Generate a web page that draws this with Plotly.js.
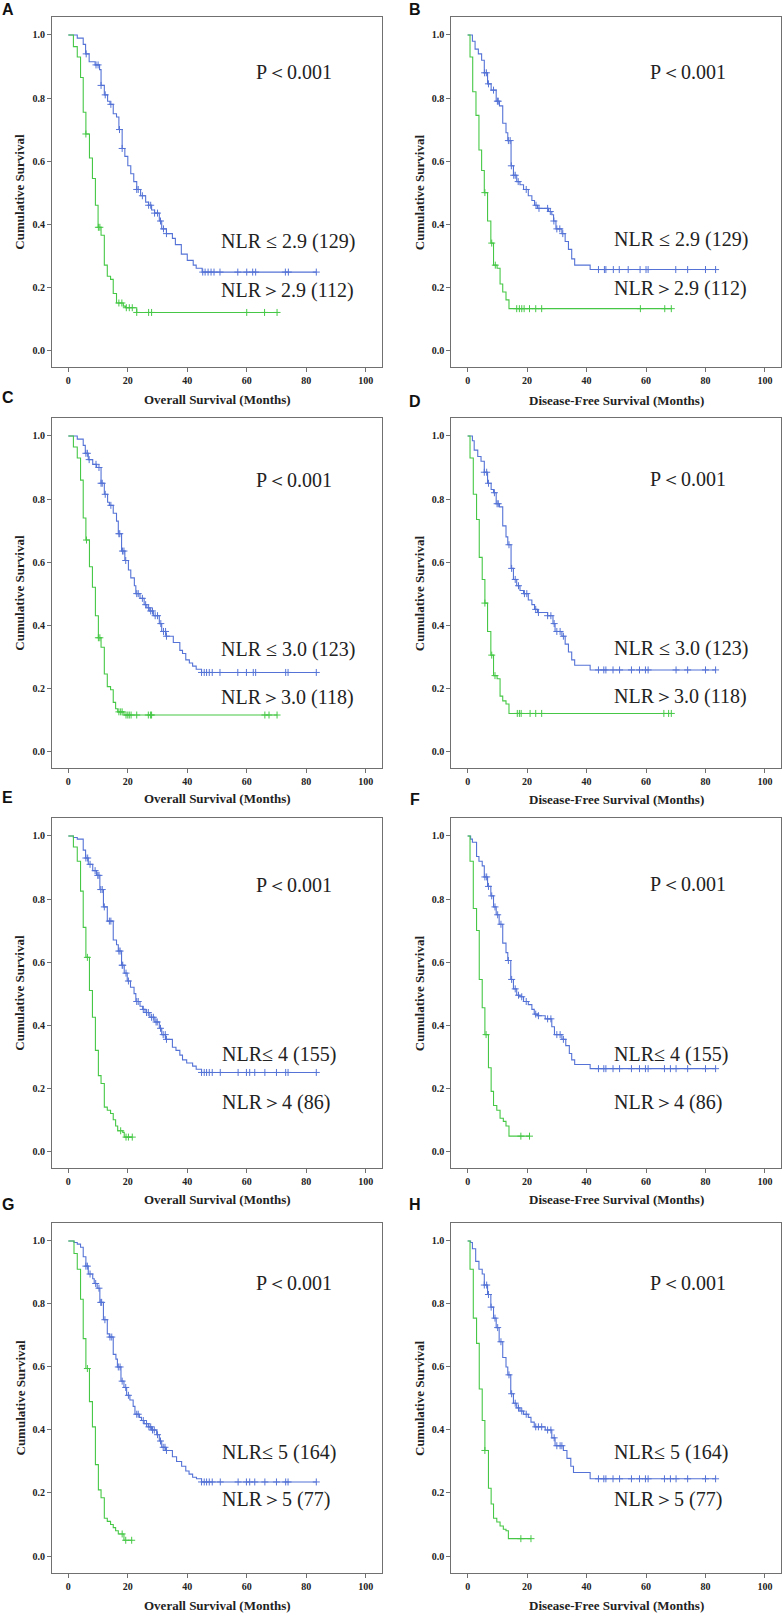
<!DOCTYPE html>
<html>
<head>
<meta charset="utf-8">
<script src="https://cdn.plot.ly/plotly-3.0.1.min.js"></script>
<style>html,body{margin:0;padding:0;background:#fff;}#chart{width:784px;height:1613px;}</style>
</head>
<body>
<div id="chart"></div>
<script>
// ---------------- DATA ----------------
// Each curve: step times (months), survival after step, censor times
// Panel A – Overall survival, NLR cut-off 2.9
const A_blue_t = [0,3,5,5.8,7,9,10.5,11,12.1,13.2,14,15.1,16.2,17,18.1,19,20,21,22,23,24.3,26,27,28,29,30.6,31.4,33,35,36,38,40,42,43,45,83.4];
const A_blue_s = [1,0.99,0.97,0.94,0.915,0.905,0.89,0.84,0.81,0.79,0.78,0.75,0.74,0.70,0.64,0.615,0.585,0.56,0.535,0.51,0.49,0.47,0.46,0.445,0.435,0.41,0.385,0.37,0.355,0.335,0.305,0.285,0.27,0.26,0.248,0.248];
const A_blue_c = [6,9.3,10,11,12.4,14.3,17.2,18.1,23,23.5,24.9,27,27.7,29,30,31,32,33,45.2,46,47,48,49,51,57,60,62,63,73,74,83.4];
const A_green_t = [0,1.7,3,4.1,5,5.9,7.1,8.1,9.1,10,11,12.1,13.1,14.2,15.1,16.2,18.5,19.2,23,70.2];
const A_green_s = [1,0.963,0.93,0.865,0.755,0.686,0.61,0.545,0.46,0.39,0.365,0.27,0.235,0.225,0.18,0.15,0.14,0.135,0.12,0.12];
const A_green_c = [5.9,10.1,10.6,17,18,19.5,20.5,21.5,23,27,28,60,66,70.2];

// Panel B – Disease-free survival, NLR cut-off 2.9
const B_blue_t = [0,1.6,2.5,3.6,4.7,5.6,6.7,7.9,9.6,10.7,11.8,12.9,13.5,14.6,15.4,16.5,17.6,18.8,20.4,21.6,22.5,23.5,27.2,28.3,28.9,29.7,31.7,32.8,33.9,35,36,41.2,83.4];
const B_blue_s = [1,0.98,0.955,0.94,0.92,0.88,0.845,0.825,0.79,0.775,0.72,0.69,0.665,0.585,0.555,0.535,0.525,0.51,0.49,0.475,0.46,0.45,0.44,0.43,0.41,0.385,0.37,0.345,0.32,0.29,0.27,0.256,0.256];
const B_blue_c = [5.7,6.3,7,8.7,10,10.3,13.7,14.3,14.7,15.5,16,17,19.7,23,24,26.9,27.8,29,30,31,32,44,46,46.5,49,51,54,58,60,60.7,70,74,80,83.4];
const B_green_t = [0,0.8,1.7,2.8,3.8,4.7,5.6,6.7,7.8,8.7,9.9,10.9,11.8,12.9,13.9,68.5];
const B_green_s = [1,0.93,0.82,0.745,0.635,0.57,0.50,0.41,0.34,0.27,0.26,0.21,0.185,0.16,0.132,0.132];
const B_green_c = [5.8,8.1,9.3,16.5,17.4,18.2,19,20.8,22.9,24.9,58.1,66.3,68.5];

// Panel C – Overall survival, NLR cut-off 3.0
const C_blue_t = [0,3,5,5.7,6.7,8.2,9.5,11,12.1,13.2,13.8,15.1,16.2,16.8,17.9,19,20.2,21,22.2,22.7,24.1,25.5,26.4,27.4,28.6,30.6,31.4,32.8,35.3,37.5,38.4,39.5,40.7,41.8,43,44.8,83.4];
const C_blue_s = [1,0.99,0.97,0.945,0.925,0.91,0.90,0.85,0.815,0.79,0.78,0.755,0.73,0.69,0.635,0.605,0.575,0.55,0.525,0.50,0.485,0.465,0.455,0.445,0.43,0.405,0.38,0.365,0.345,0.32,0.31,0.29,0.28,0.27,0.26,0.25,0.25];
const C_blue_c = [5.9,6.4,7,9.3,10.3,11,11.4,12.4,14.3,17,17.3,18.2,18.7,19.3,23,23.5,24.9,26,27,27.7,28.3,29.2,30,31.1,32,32.7,33,44.8,45.7,46.5,47.4,48.4,51,57,59.9,62.2,63,73.1,73.9,83.4];
const C_green_t = [0,1.7,3,4.1,5,5.9,7.1,8.1,9.1,10.1,11,12.1,13.1,14.2,15.1,15.9,16.6,18.7,70.2];
const C_green_s = [1,0.965,0.93,0.86,0.74,0.67,0.585,0.52,0.43,0.36,0.33,0.245,0.205,0.195,0.155,0.135,0.125,0.115,0.115];
const C_green_c = [6.1,10.1,10.6,17,17.6,18.1,19.4,20,20.5,21.1,23,26.9,27.6,28,66.1,67.5,70.2];

// Panel D – Disease-free survival, NLR cut-off 3.0
const D_blue_t = [0,1.6,2.2,3.4,4.5,5.6,6.7,7.9,8.7,9.6,10.7,11.8,12.9,13.5,14.6,15.4,16.5,17.6,18.8,20.4,21.6,22.5,23.5,26.9,28.7,29.4,31.7,32.8,33.9,35,36,41.2,83.4];
const D_blue_s = [1,0.985,0.955,0.935,0.92,0.885,0.85,0.83,0.82,0.785,0.775,0.715,0.68,0.655,0.58,0.545,0.525,0.51,0.50,0.48,0.465,0.45,0.44,0.43,0.405,0.38,0.365,0.34,0.315,0.29,0.273,0.258,0.258];
const D_blue_c = [5.6,6.4,7,9,9.9,10.3,13.9,14.8,16,17.1,19.1,19.9,22.9,23.8,26.9,28,29.1,30,31.1,32.2,44,45.8,46.5,48.9,51.1,55.1,57.8,59.8,60.7,70.1,74,80,83.4];
const D_green_t = [0,0.8,1.9,3,3.9,4.9,5.8,6.7,7.8,8.7,9.9,10.9,11.8,12.9,13.9,68.5];
const D_green_s = [1,0.93,0.815,0.735,0.615,0.545,0.47,0.38,0.305,0.24,0.23,0.175,0.16,0.15,0.12,0.12];
const D_green_c = [5.8,8.1,9.2,16.7,17.4,18,21,22.9,24.9,66,67.6,68.5];

// Panel E – Overall survival, NLR cut-off 4
const E_blue_t = [0,1.7,3,5,5.8,6.7,8.2,9.5,10.6,11.8,13.1,15.1,16.2,16.8,17.9,18.8,19.8,20.9,22.1,22.7,24.1,25,25.8,27.4,29.1,30.6,31.4,32.7,35,36.2,37.5,38.4,39.8,41.8,43,44.8,83.4];
const E_blue_s = [1,0.995,0.99,0.955,0.93,0.91,0.89,0.875,0.83,0.775,0.73,0.67,0.655,0.635,0.59,0.565,0.54,0.52,0.50,0.475,0.46,0.45,0.44,0.425,0.41,0.39,0.37,0.355,0.33,0.32,0.305,0.29,0.28,0.27,0.26,0.25,0.25];
const E_blue_c = [5.9,6.5,7.3,9,9.9,10.3,10.9,11.4,12.1,13.8,14.3,17,17.4,18.1,18.3,19.4,20.2,23,23.5,25.2,26.3,26.9,28,28.6,29.5,29.9,31,31.9,32.6,33,44.8,45.7,46.5,47.4,48.4,51.1,57.1,59.9,61,62.7,66.1,70,73.1,73.9,83.4];
const E_green_t = [0,1.7,3,4.1,5,5.9,7.1,8.1,9.1,10.1,11,12.1,13.1,14.2,15.1,15.9,16.6,18.3,18.8,21.5];
const E_green_s = [1,0.965,0.92,0.825,0.71,0.615,0.51,0.425,0.32,0.24,0.215,0.14,0.13,0.12,0.10,0.08,0.065,0.06,0.045,0.045];
const E_green_c = [6.4,17.6,19.4,20.2,21.5];

// Panel F – Disease-free survival, NLR cut-off 4
const F_blue_t = [0,1,1.6,3,3.8,4.9,5.6,6.7,7.8,8.7,9.6,10.6,11.8,12.9,13.5,14.5,15.4,16.5,17.6,18.8,20.4,21.6,22.4,23.5,26.1,28.3,29.2,31.7,33,34.2,35,36,41.2,83.4];
const F_blue_s = [1,0.99,0.98,0.935,0.92,0.905,0.87,0.84,0.81,0.775,0.75,0.72,0.66,0.63,0.605,0.545,0.515,0.495,0.49,0.475,0.465,0.45,0.435,0.43,0.42,0.395,0.37,0.355,0.335,0.31,0.29,0.275,0.262,0.262];
const F_blue_c = [5.8,6.4,7,8.1,9.2,10.1,11.2,13.7,14.8,16,17.1,18.2,19.7,22.9,23.8,26.9,28,30,31.1,32.2,44,45.8,46.5,48.9,51.1,55.1,57.8,59.8,60.7,66.2,68.2,70.1,74,80,83.4];
const F_green_t = [0,0.8,1.9,3,3.9,4.9,5.8,7,7.9,8.7,9.8,10.9,12,12.9,13.9,20.8];
const F_green_s = [1,0.92,0.77,0.70,0.545,0.455,0.37,0.265,0.19,0.145,0.13,0.105,0.095,0.08,0.048,0.048];
const F_green_c = [6.2,17.9,20.8];

// Panel G – Overall survival, NLR cut-off 5
const G_blue_t = [0,1.9,3,4.1,5,5.9,6.7,8.2,8.7,9.7,10.6,11.8,13.1,13.8,15.1,16,16.5,17.7,18.7,19.6,20.7,21.8,22.4,23.9,24.6,25.5,26.9,28,29.7,30.6,31.4,32.7,35,36.4,38.1,39.5,40.6,41.8,43.1,44.8,83.4];
const G_blue_s = [1,0.995,0.99,0.98,0.95,0.92,0.895,0.88,0.865,0.85,0.805,0.75,0.705,0.695,0.64,0.625,0.60,0.555,0.535,0.51,0.495,0.475,0.45,0.44,0.43,0.42,0.41,0.40,0.385,0.365,0.345,0.335,0.315,0.30,0.285,0.27,0.26,0.25,0.245,0.235,0.235];
const G_blue_c = [5.9,6.4,7.3,9.2,10.3,10.9,11.2,12.3,14,14.6,16.8,17.4,18.1,19.3,20.2,23,23.5,25.2,26.3,27.1,27.7,28.3,28.9,30,31,31.9,32.5,33,44.8,45.7,46.5,47.4,48.4,51.1,57.1,59.9,61,62.7,66.1,70,73.1,73.9,83.4];
const G_green_t = [0,1.9,3,4.1,5,5.9,7.1,8.1,9.1,10.1,11,12.1,13.1,14.2,15.1,15.9,16.8,18.7,21.5];
const G_green_s = [1,0.96,0.91,0.815,0.69,0.595,0.49,0.41,0.29,0.21,0.185,0.12,0.11,0.10,0.09,0.08,0.07,0.05,0.05];
const G_green_c = [6.4,18.1,19.3,21.3];

// Panel H – Disease-free survival, NLR cut-off 5
const H_blue_t = [0,1,1.6,2.7,3.8,4.9,5.6,6.7,7.8,8.7,9.6,10.6,11.8,12.9,13.5,14.5,15.4,16.5,17.6,18.8,20.4,21.3,22.4,26.1,28.3,29.4,32.2,33.4,34.7,35.6,41.2,83.4];
const H_blue_s = [1,0.995,0.975,0.935,0.91,0.895,0.86,0.83,0.79,0.755,0.725,0.68,0.63,0.60,0.575,0.515,0.485,0.47,0.46,0.45,0.44,0.425,0.41,0.40,0.375,0.35,0.335,0.31,0.285,0.265,0.245,0.245];
const H_blue_c = [5.6,6.4,7,7.9,9.2,10.1,11.2,13.9,14.8,16,17.1,18.2,19.7,22.9,23.8,24.9,26.9,28,29.1,30,31.1,31.7,44,45.8,46.5,48.9,51.1,55.1,57.8,59.8,60.7,66.2,68.2,70.1,74,80,83.4];
const H_green_t = [0,0.8,1.9,3,3.9,4.9,5.8,7,7.9,8.7,9.8,10.9,12,12.9,13.7,21.3];
const H_green_s = [1,0.91,0.755,0.675,0.53,0.43,0.335,0.215,0.165,0.12,0.108,0.095,0.085,0.08,0.055,0.055];
const H_green_c = [5.8,17.9,21.3];

// Text
const panelLetters = ['A','B','C','D','E','F','G','H'];
const xTitles = ['Overall Survival (Months)','Disease-Free Survival (Months)'];
const yTitle = 'Cumulative Survival';
const pText = 'P＜0.001';
const lowLabels  = ['NLR ≤ 2.9 (129)','NLR ≤ 2.9 (129)','NLR ≤ 3.0 (123)','NLR ≤ 3.0 (123)','NLR≤ 4 (155)','NLR≤ 4 (155)','NLR≤ 5 (164)','NLR≤ 5 (164)'];
const highLabels = ['NLR＞2.9 (112)','NLR＞2.9 (112)','NLR＞3.0 (118)','NLR＞3.0 (118)','NLR＞4 (86)','NLR＞4 (86)','NLR＞5 (77)','NLR＞5 (77)'];
const xTicks = [0,20,40,60,80,100];
const yTicks = [0,0.2,0.4,0.6,0.8,1.0];

// ---------------- BUILD ----------------
const curves = {
  A:[[A_blue_t,A_blue_s,A_blue_c],[A_green_t,A_green_s,A_green_c]],
  B:[[B_blue_t,B_blue_s,B_blue_c],[B_green_t,B_green_s,B_green_c]],
  C:[[C_blue_t,C_blue_s,C_blue_c],[C_green_t,C_green_s,C_green_c]],
  D:[[D_blue_t,D_blue_s,D_blue_c],[D_green_t,D_green_s,D_green_c]],
  E:[[E_blue_t,E_blue_s,E_blue_c],[E_green_t,E_green_s,E_green_c]],
  F:[[F_blue_t,F_blue_s,F_blue_c],[F_green_t,F_green_s,F_green_c]],
  G:[[G_blue_t,G_blue_s,G_blue_c],[G_green_t,G_green_s,G_green_c]],
  H:[[H_blue_t,H_blue_s,H_blue_c],[H_green_t,H_green_s,H_green_c]]
};
const colors = ['#5573d6','#46c846'];

const W = 784, Hh = 1613;
const colX = [[52,382],[451.3,781.3]];
const rowY = [[17.3,367],[418.3,768],[818.3,1168],[1223.3,1572.7]];
// annotation placements (data coords)
const pPos = [[76,0.883],[74,0.884],[76,0.859],[74,0.862],[76,0.843],[74,0.849],[76,0.865],[74,0.865]];
const lowPos = [[50.6,0.344],[48.5,0.35],[50.6,0.324],[48.5,0.325],[51,0.307],[48.5,0.307],[51,0.328],[48.5,0.328]];
const highPos = [[50.6,0.19],[48.5,0.197],[50.6,0.172],[48.5,0.174],[51,0.156],[48.5,0.156],[51,0.178],[48.5,0.178]];
const letterPos = [[7.5,10],[414.5,10],[7.5,398],[414.5,402],[7.5,797],[414.5,799],[7.5,1204],[414.5,1204]];
const xTitleY = [400,401,798,799,1199,1199,1605,1605];

function stepAt(t, s, c){ let v = s[0]; for(let i=0;i<t.length;i++){ if(t[i] <= c + 1e-9) v = s[i]; } return v; }

const traces = [];
const layout = {
  width: W, height: Hh, autosize:false,
  margin:{l:0,r:0,t:0,b:0},
  paper_bgcolor:'#ffffff', plot_bgcolor:'#ffffff',
  showlegend:false,
  annotations:[]
};
const serif = 'Liberation Serif, Times New Roman, serif';
const tickFont = {family:serif, size:10, color:'#222', weight:'bold'};

panelLetters.forEach((L, i) => {
  const n = i+1;
  const col = i % 2, row = Math.floor(i/2);
  const xa = n===1 ? 'x' : 'x'+n, ya = n===1 ? 'y' : 'y'+n;
  const xk = n===1 ? 'xaxis' : 'xaxis'+n, yk = n===1 ? 'yaxis' : 'yaxis'+n;
  layout[xk] = {
    domain:[colX[col][0]/W, colX[col][1]/W], anchor: ya,
    range:[-5.5,105.5], tickvals:xTicks, ticktext:xTicks.map(String),
    showline:true, mirror:true, linecolor:'#707070', linewidth:1,
    ticks:'outside', ticklen:4, tickcolor:'#707070', tickwidth:1,
    showgrid:false, zeroline:false, tickfont:tickFont, fixedrange:true
  };
  layout[yk] = {
    domain:[1-rowY[row][1]/Hh, 1-rowY[row][0]/Hh], anchor: xa,
    range:[-0.053,1.056], tickvals:yTicks, ticktext:yTicks.map(v=>v.toFixed(1)),
    showline:true, mirror:true, linecolor:'#707070', linewidth:1,
    ticks:'outside', ticklen:4, tickcolor:'#707070', tickwidth:1,
    showgrid:false, zeroline:false, tickfont:tickFont, fixedrange:true
  };
  curves[L].forEach((cv, k) => {
    const [t, s, c] = cv;
    traces.push({x:t, y:s, xaxis:xa, yaxis:ya, type:'scatter', mode:'lines',
      line:{color:colors[k], width:1.1, shape:'hv'}, hoverinfo:'skip'});
    traces.push({x:c, y:c.map(v=>stepAt(t,s,v)), xaxis:xa, yaxis:ya, type:'scatter', mode:'markers',
      marker:{symbol:'cross-thin', size:5, color:colors[k], line:{color:colors[k], width:1}}, hoverinfo:'skip'});
  });
  // annotations
  layout.annotations.push({xref:xa, yref:ya, x:pPos[i][0], y:pPos[i][1], text:pText, showarrow:false,
    xanchor:'center', yanchor:'middle', font:{family:serif, size:20, color:'#222'}});
  layout.annotations.push({xref:xa, yref:ya, x:lowPos[i][0], y:lowPos[i][1], text:lowLabels[i], showarrow:false,
    xanchor:'left', yanchor:'middle', font:{family:serif, size:20, color:'#222'}});
  layout.annotations.push({xref:xa, yref:ya, x:highPos[i][0], y:highPos[i][1], text:highLabels[i], showarrow:false,
    xanchor:'left', yanchor:'middle', font:{family:serif, size:20, color:'#222'}});
  // axis titles
  layout.annotations.push({xref:'paper', yref:'paper', x:(colX[col][0]+colX[col][1])/2/W, y:1-xTitleY[i]/Hh,
    text:xTitles[col], showarrow:false, xanchor:'center', yanchor:'middle',
    font:{family:serif, size:13, color:'#222', weight:'bold'}});
  layout.annotations.push({xref:'paper', yref:'paper', x:(col===0?19.5:419)/W, y:1-(rowY[row][0]+rowY[row][1])/2/Hh,
    text:yTitle, textangle:-90, showarrow:false, xanchor:'center', yanchor:'middle',
    font:{family:serif, size:13, color:'#222', weight:'bold'}});
  // panel letter
  layout.annotations.push({xref:'paper', yref:'paper', x:letterPos[i][0]/W, y:1-letterPos[i][1]/Hh,
    text:L, showarrow:false, xanchor:'center', yanchor:'middle',
    font:{family:'Liberation Sans, Arial, sans-serif', size:16, color:'#111', weight:'bold'}});
});

Plotly.newPlot('chart', traces, layout, {staticPlot:true, displayModeBar:false});
</script>
</body>
</html>
